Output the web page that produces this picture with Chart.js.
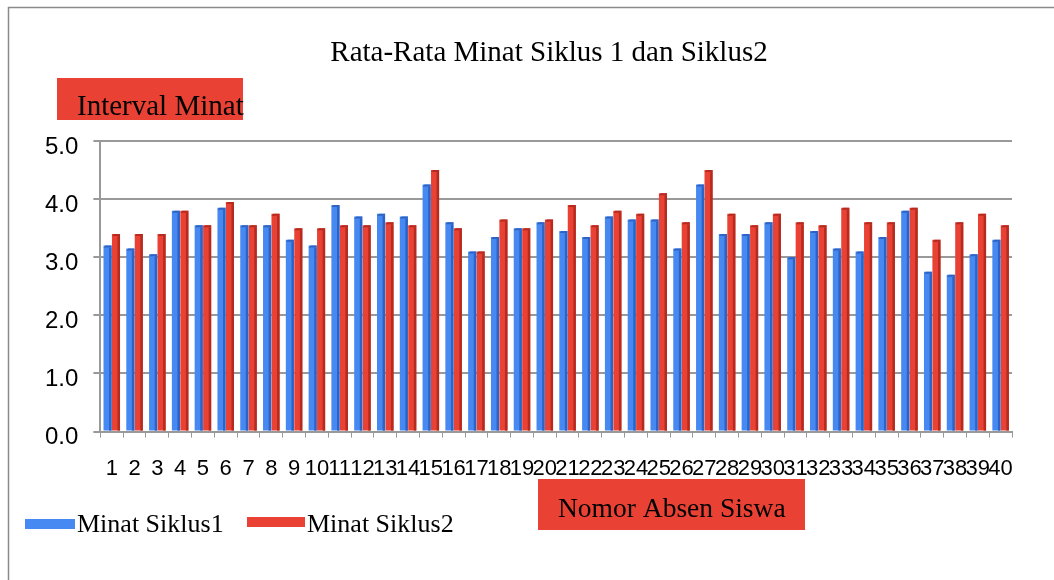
<!DOCTYPE html>
<html>
<head>
<meta charset="utf-8">
<script src="https://cdn.jsdelivr.net/npm/chart.js@4/dist/chart.umd.min.js"></script>
<style>
  html, body { margin: 0; padding: 0; background: #fff; }
  #wrap { width: 1054px; height: 580px; position: relative; }
</style>
</head>
<body>
<div id="wrap"><canvas id="grafik"></canvas></div>
<script>
// Data
const nomorAbsen = ['1','2','3','4','5','6','7','8','9','10','11','12','13','14','15','16','17','18','19','20',
  '21','22','23','24','25','26','27','28','29','30','31','32','33','34','35','36','37','38','39','40'];
const minatSiklus1 = [3.2, 3.15, 3.05, 3.8, 3.55, 3.85, 3.55, 3.55, 3.3, 3.2,
  3.9, 3.7, 3.75, 3.7, 4.25, 3.6, 3.1, 3.35, 3.5, 3.6,
  3.45, 3.35, 3.7, 3.65, 3.65, 3.15, 4.25, 3.4, 3.4, 3.6,
  3.0, 3.45, 3.15, 3.1, 3.35, 3.8, 2.75, 2.7, 3.05, 3.3];
const minatSiklus2 = [3.4, 3.4, 3.4, 3.8, 3.55, 3.95, 3.55, 3.75, 3.5, 3.5,
  3.55, 3.55, 3.6, 3.55, 4.5, 3.5, 3.1, 3.65, 3.5, 3.65,
  3.9, 3.55, 3.8, 3.75, 4.1, 3.6, 4.5, 3.75, 3.55, 3.75,
  3.6, 3.55, 3.85, 3.6, 3.6, 3.85, 3.3, 3.6, 3.75, 3.55];
const yTicks = [0, 1, 2, 3, 4, 5];

const judul = 'Rata-Rata Minat Siklus 1 dan Siklus2';
const judulY = 'Interval Minat';
const judulX = 'Nomor Absen Siswa';
const namaSeri = ['Minat Siklus1', 'Minat Siklus2'];

const biru = '#4689F2';
const merah = '#E94234';
const biruGelap = '#2E63C4';
const merahGelap = '#B52B20';
const serif = '"Liberation Serif", "Times New Roman", serif';
const sans = '"Liberation Sans", Arial, sans-serif';

// Hiasan: bingkai, kotak judul, legenda, sisi 3D batang
const hiasan = {
  id: 'hiasan',
  beforeDraw(chart) {
    const ctx = chart.ctx;
    ctx.save();
    ctx.fillStyle = '#fff';
    ctx.fillRect(0, 0, chart.width, chart.height);
    ctx.strokeStyle = '#8a8a8a';
    ctx.lineWidth = 1.5;
    ctx.beginPath();
    ctx.moveTo(8.5, chart.height);
    ctx.lineTo(8.5, 7.5);
    ctx.lineTo(chart.width, 7.5);
    ctx.stroke();
    ctx.restore();
  },
  afterDatasetsDraw(chart) {
    const ctx = chart.ctx;
    ctx.save();
    chart.data.datasets.forEach((ds, i) => {
      const meta = chart.getDatasetMeta(i);
      ctx.fillStyle = i === 0 ? biruGelap : merahGelap;
      meta.data.forEach(bar => {
        const w = bar.width;
        const x1 = bar.x + w / 2;
        ctx.fillRect(x1 - 2.5, bar.y + 2, 2.5, bar.base - bar.y - 2);
        ctx.beginPath();
        ctx.moveTo(x1 - w, bar.y + 2);
        ctx.lineTo(x1 - w + 2, bar.y);
        ctx.lineTo(x1, bar.y);
        ctx.lineTo(x1, bar.y + 2);
        ctx.closePath();
        ctx.fill();
      });
    });
    ctx.restore();
  },
  afterDraw(chart) {
    const ctx = chart.ctx;
    ctx.save();
    ctx.textBaseline = 'middle';

    // judul grafik
    ctx.fillStyle = '#000';
    ctx.font = '29px ' + serif;
    ctx.textAlign = 'center';
    ctx.fillText(judul, 549, 53);

    // judul sumbu Y
    ctx.fillStyle = merah;
    ctx.fillRect(57, 78, 186, 42);
    ctx.fillStyle = '#000';
    ctx.textAlign = 'left';
    ctx.font = '29px ' + serif;
    ctx.fillText(judulY, 77, 107);

    // judul sumbu X
    ctx.fillStyle = merah;
    ctx.fillRect(538, 479, 267, 51);
    ctx.fillStyle = '#000';
    ctx.font = '27.5px ' + serif;
    ctx.fillText(judulX, 558, 510);

    // legenda
    const leg = [[25, 75, 77], [247, 305, 307]];
    ctx.font = '26px ' + serif;
    leg.forEach((l, i) => {
      ctx.fillStyle = i === 0 ? biru : merah;
      ctx.fillRect(l[0], i === 0 ? 519 : 517, l[1] - l[0], 10);
      ctx.fillStyle = '#000';
      ctx.fillText(namaSeri[i], l[2], 525);
    });
    ctx.restore();
  }
};

const ctxGrafik = document.getElementById('grafik').getContext('2d');
const grafik = new Chart(ctxGrafik, {
  type: 'bar',
  data: {
    labels: nomorAbsen,
    datasets: [
      { label: namaSeri[0], data: minatSiklus1, backgroundColor: biru },
      { label: namaSeri[1], data: minatSiklus2, backgroundColor: merah }
    ]
  },
  options: {
    responsive: true,
    maintainAspectRatio: false,
    animation: false,
    layout: { padding: { top: 141, left: 30, right: 42, bottom: 80 } },
    datasets: { bar: { categoryPercentage: 0.74, barPercentage: 0.96 } },
    plugins: {
      legend: { display: false },
      title: { display: false },
      tooltip: { enabled: false }
    },
    scales: {
      x: {
        grid: { display: true, drawOnChartArea: false, tickLength: 6, color: '#999', lineWidth: 1 },
        border: { display: true, color: '#999', width: 2 },
        ticks: {
          autoSkip: false, maxRotation: 0, minRotation: 0, padding: 18,
          color: '#000', font: { family: sans, size: 22 }
        }
      },
      y: {
        min: 0, max: 5,
        afterBuildTicks: axis => { axis.ticks = yTicks.map(v => ({ value: v })); },
        grid: { color: '#999', lineWidth: 2, tickLength: 7 },
        border: { display: true, color: '#999', width: 2 },
        ticks: {
          padding: 15, labelOffset: 6, color: '#000', font: { family: sans, size: 24 },
          callback: v => v.toFixed(1)
        }
      }
    }
  },
  plugins: [hiasan]
});
</script>
</body>
</html>
